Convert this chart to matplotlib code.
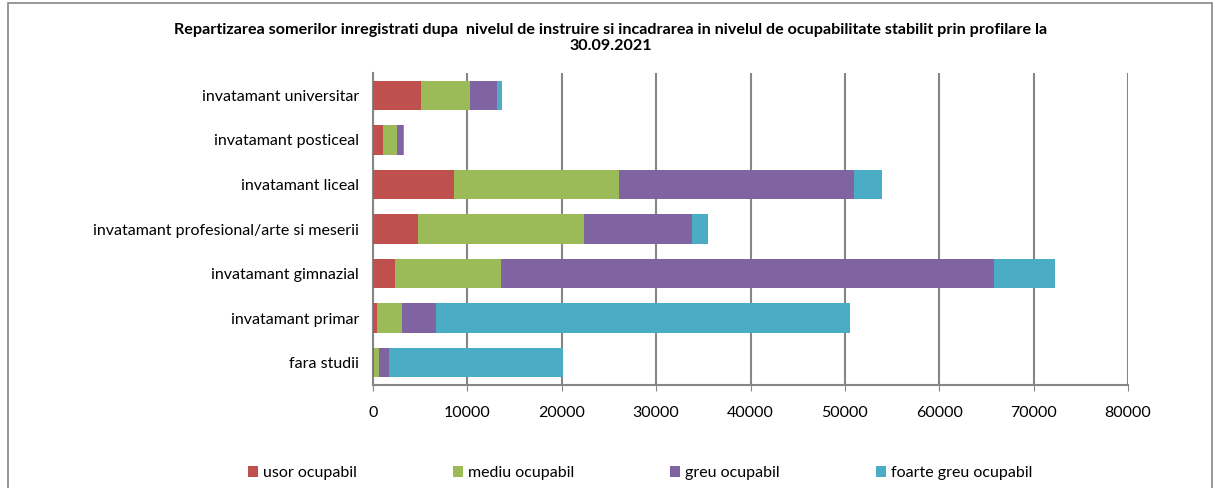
import matplotlib.pyplot as plt
import matplotlib.patches as mpatches
import numpy as np

categories = ["fara studii", "invatamant primar", "invatamant gimnazial",
              "invatamant profesional/arte si meserii", "invatamant liceal",
              "invatamant posticeal", "invatamant universitar"]
series_names = ["usor ocupabil", "mediu ocupabil", "greu ocupabil", "foarte greu ocupabil"]
usor = [60, 430, 2380, 4810, 8540, 1090, 5115]
mediu = [600, 2650, 11135, 17510, 17570, 1480, 5115]
greu = [1020, 3570, 52325, 11460, 24865, 565, 2930]
foarte_greu = [18485, 43890, 6380, 1675, 2920, 175, 495]
colors = ["#C0504D", "#9BBB59", "#8064A2", "#4BACC6"]
x_ticks = [0, 10000, 20000, 30000, 40000, 50000, 60000, 70000, 80000]

plt.rcParams['font.family'] = ['Lato', 'DejaVu Sans']

fig = plt.figure(figsize=(12.22, 4.88), dpi=100)
ax = fig.add_axes([373 / 1222, 1 - 385 / 488, (1128 - 373) / 1222, (385 - 73) / 488])

y = np.arange(len(categories))
left = np.zeros(len(categories))
for vals, name, c in zip([usor, mediu, greu, foarte_greu], series_names, colors):
    ax.barh(y, vals, left=left, height=0.66, color=c, label=name, zorder=3)
    left += np.array(vals)

ax.set_xlim(0, 80000)
ax.set_ylim(-0.5, len(categories) - 0.5)
ax.set_xticks(x_ticks)
ax.set_xticklabels([str(t) for t in x_ticks], fontsize=11.5)
ax.set_yticks(y)
ax.set_yticklabels(categories, fontsize=11.5)
ax.tick_params(axis='y', length=0, pad=10)
ax.tick_params(axis='x', length=4, color='#868686', pad=11)
ax.grid(axis='x', color='#868686', linewidth=1.5, zorder=0)
for s in ['top', 'right']:
    ax.spines[s].set_visible(False)
for s in ['left', 'bottom']:
    ax.spines[s].set_color('#868686')
    ax.spines[s].set_linewidth(1.5)

fig.text(0.5, 1 - 30 / 488,
         "Repartizarea somerilor inregistrati dupa  nivelul de instruire si incadrarea in nivelul de ocupabilitate stabilit prin profilare la",
         ha='center', va='center', fontsize=11.6, fontweight='bold')
fig.text(0.5, 1 - 46 / 488, "30.09.2021", ha='center', va='center', fontsize=11.6, fontweight='bold')

handles, labels = ax.get_legend_handles_labels()
fig.legend(handles, labels, loc='center', bbox_to_anchor=(0.524, 1 - 473 / 488), ncol=4,
           frameon=False, fontsize=11.5, handlelength=0.6, handleheight=0.7,
           handletextpad=0.35, columnspacing=6.0)

border = mpatches.Rectangle((8 / 1222, -0.1), (1212 - 8) / 1222, 1.1 - 3 / 488,
                            transform=fig.transFigure, fill=False, edgecolor='#868686',
                            linewidth=1.2, clip_on=False)
fig.patches.append(border)

fig.savefig("out.png", dpi=100)
